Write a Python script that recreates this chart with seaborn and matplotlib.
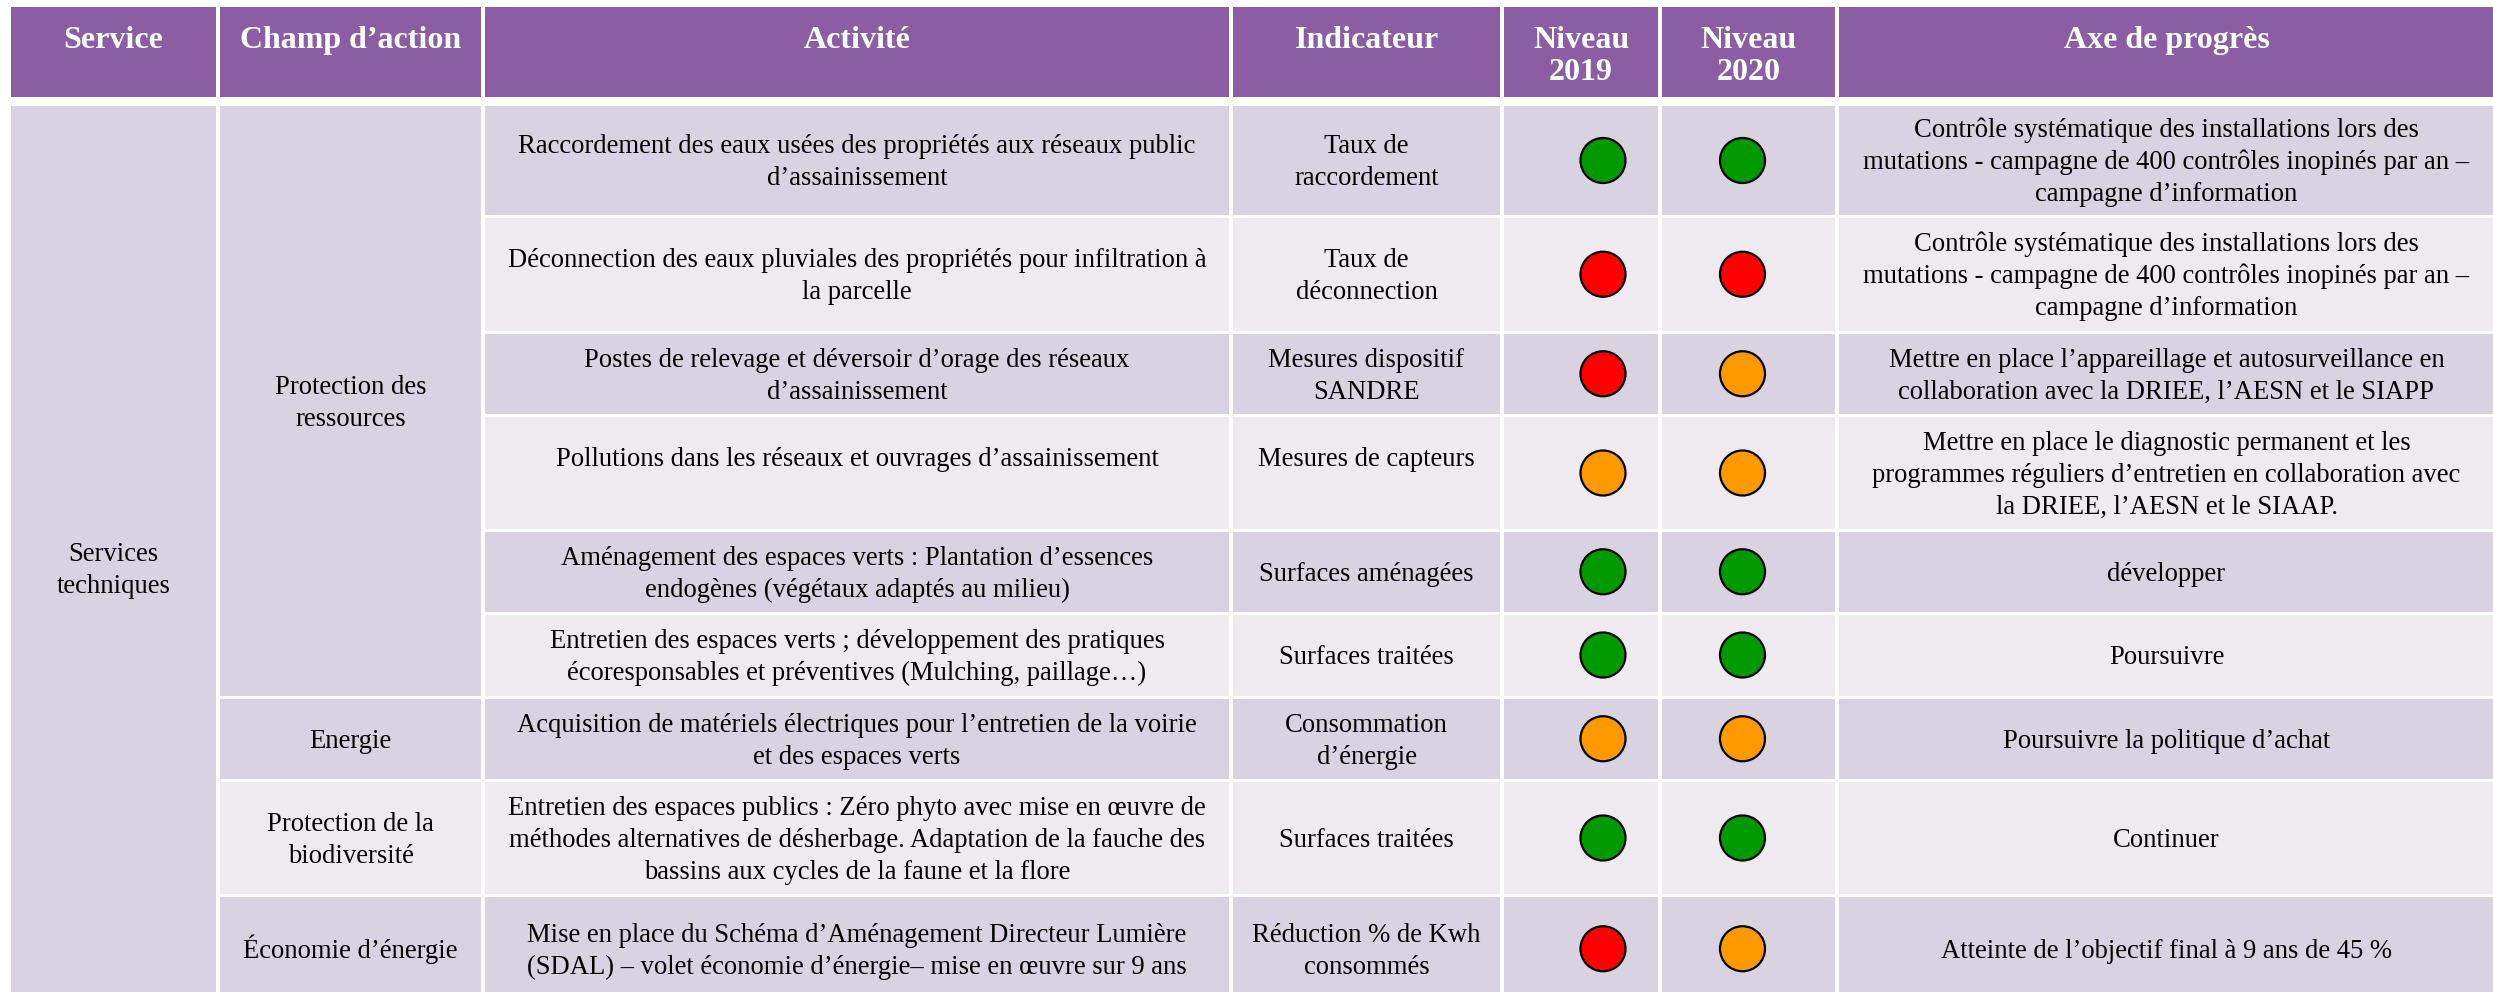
import numpy as np
import pandas as pd
import matplotlib.pyplot as plt
import seaborn as sns
from matplotlib.patches import Rectangle

# --- données du tableau ---
entetes = ['Service', 'Champ d’action', 'Activité', 'Indicateur',
           'Niveau\n2019', 'Niveau\n2020', 'Axe de progrès']

service = 'Services\ntechniques'

champs = ['Protection des\nressources'] * 6 + [
    'Energie', 'Protection de la\nbiodiversité', 'Économie d’énergie']

activites = [
    'Raccordement des eaux usées des propriétés aux réseaux public\nd’assainissement',
    'Déconnection des eaux pluviales des propriétés pour infiltration à\nla parcelle',
    'Postes de relevage et déversoir d’orage des réseaux\nd’assainissement',
    'Pollutions dans les réseaux et ouvrages d’assainissement\n',
    'Aménagement des espaces verts : Plantation d’essences\nendogènes (végétaux adaptés au milieu)',
    'Entretien des espaces verts ; développement des pratiques\nécoresponsables et préventives (Mulching, paillage…)',
    'Acquisition de matériels électriques pour l’entretien de la voirie\net des espaces verts',
    'Entretien des espaces publics : Zéro phyto avec mise en œuvre de\nméthodes alternatives de désherbage. Adaptation de la fauche des\nbassins aux cycles de la faune et la flore',
    'Mise en place du Schéma d’Aménagement Directeur Lumière\n(SDAL) – volet économie d’énergie– mise en œuvre sur 9 ans',
]

indicateurs = [
    'Taux de\nraccordement', 'Taux de\ndéconnection', 'Mesures dispositif\nSANDRE',
    'Mesures de capteurs\n', 'Surfaces aménagées', 'Surfaces traitées',
    'Consommation\nd’énergie', 'Surfaces traitées', 'Réduction % de Kwh\nconsommés',
]

niveau_2019 = ['vert', 'rouge', 'rouge', 'orange', 'vert', 'vert', 'orange', 'vert', 'rouge']
niveau_2020 = ['vert', 'rouge', 'orange', 'orange', 'vert', 'vert', 'orange', 'vert', 'orange']

axes_progres = [
    'Contrôle systématique des installations lors des\nmutations - campagne de 400 contrôles inopinés par an –\ncampagne d’information',
    'Contrôle systématique des installations lors des\nmutations - campagne de 400 contrôles inopinés par an –\ncampagne d’information',
    'Mettre en place l’appareillage et autosurveillance en\ncollaboration avec la DRIEE, l’AESN et le SIAPP',
    'Mettre en place le diagnostic permanent et les\nprogrammes réguliers d’entretien en collaboration avec\nla DRIEE, l’AESN et le SIAAP.',
    'développer',
    'Poursuivre',
    'Poursuivre la politique d’achat',
    'Continuer',
    'Atteinte de l’objectif final à 9 ans de 45 %',
]

# --- mise en page (pixels) ---
W, H = 2493, 992
col_edges = [9, 218, 483, 1231, 1502, 1660, 1837, 2496]
row_edges = [104.5, 216.5, 332, 415.5, 530.5, 613, 697, 780.5, 895.5, 1002]
service_bottom = 1032  # le tableau continue sous l'image
header_top, header_bottom = 7, 97
gap_x, gap_y = 4, 3
nudge_cercle = {4: 22, 5: -6}
taille_corps = 19.2

violet = '#8B5EA3'
fonce = '#D9D2E0'
clair = '#EEEAF0'
palette = {'vert': '#009900', 'rouge': '#FF0000', 'orange': '#FF9900'}

sns.set_style('white')
plt.rcParams['font.family'] = ['Liberation Serif', 'DejaVu Serif']

fig = plt.figure(figsize=(24.93, 9.92), dpi=100)
ax = fig.add_axes([0, 0, 1, 1])


def cellule(c0, c1, y0, y1, couleur):
    x0 = col_edges[c0] + gap_x / 2
    x1 = col_edges[c1] - gap_x / 2
    ax.add_patch(Rectangle((x0, y0 + gap_y / 2), x1 - x0, y1 - y0 - gap_y,
                           facecolor=couleur, edgecolor='none', zorder=1))


def texte(x, yc, txt, size=taille_corps, weight='normal', color='black', lh=32):
    lignes = txt.split('\n')
    n = len(lignes)
    em = size * 100 / 72
    for i, ligne in enumerate(lignes):
        y = yc + (i - (n - 1) / 2) * lh + 0.33 * em
        ax.text(x, y, ligne, ha='center', va='baseline', fontsize=size,
                fontweight=weight, color=color, zorder=4)


def centre_col(c):
    return (col_edges[c] + col_edges[c + 1]) / 2


def centre_ligne(r):
    return (row_edges[r] + row_edges[r + 1]) / 2


# en-tête
for c, titre in enumerate(entetes):
    x0 = col_edges[c] + gap_x / 2
    x1 = col_edges[c + 1] - gap_x / 2
    ax.add_patch(Rectangle((x0, header_top), x1 - x0, header_bottom - header_top,
                           facecolor=violet, edgecolor='none', zorder=1))
    n = len(titre.split('\n'))
    texte(centre_col(c), 37 + (n - 1) / 2 * 32, titre, size=23, weight='bold',
          color='white', lh=32)

# colonne Service
cellule(0, 1, row_edges[0], row_edges[-1], fonce)
texte(centre_col(0), (row_edges[0] + service_bottom) / 2, service)

# colonne Champ d'action (cellules fusionnées)
debut = 0
for r in range(1, len(champs) + 1):
    if r == len(champs) or champs[r] != champs[debut]:
        couleur = fonce if debut % 2 == 0 else clair
        cellule(1, 2, row_edges[debut], row_edges[r], couleur)
        texte(centre_col(1), (row_edges[debut] + row_edges[r]) / 2, champs[debut])
        debut = r

# autres colonnes
for r in range(len(activites)):
    couleur = fonce if r % 2 == 0 else clair
    for c in range(2, 7):
        cellule(c, c + 1, row_edges[r], row_edges[r + 1], couleur)
    yc = centre_ligne(r)
    texte(centre_col(2), yc, activites[r])
    texte(centre_col(3), yc, indicateurs[r])
    texte(centre_col(6), yc, axes_progres[r])

# pastilles de niveau
df = pd.DataFrame({
    'ligne': list(range(len(niveau_2019))) * 2,
    'colonne': [4] * len(niveau_2019) + [5] * len(niveau_2020),
    'niveau': niveau_2019 + niveau_2020,
})
df['x'] = [centre_col(c) + nudge_cercle[c] for c in df['colonne']]
df['y'] = [centre_ligne(r) for r in df['ligne']]

sns.scatterplot(data=df, x='x', y='y', hue='niveau', palette=palette, s=1050,
                edgecolor='black', linewidth=1.6, legend=False, ax=ax, zorder=3)

ax.set_xlim(0, W)
ax.set_ylim(H, 0)
ax.set_xlabel('')
ax.set_ylabel('')
ax.axis('off')

fig.savefig('out.png', dpi=100, facecolor='white')
